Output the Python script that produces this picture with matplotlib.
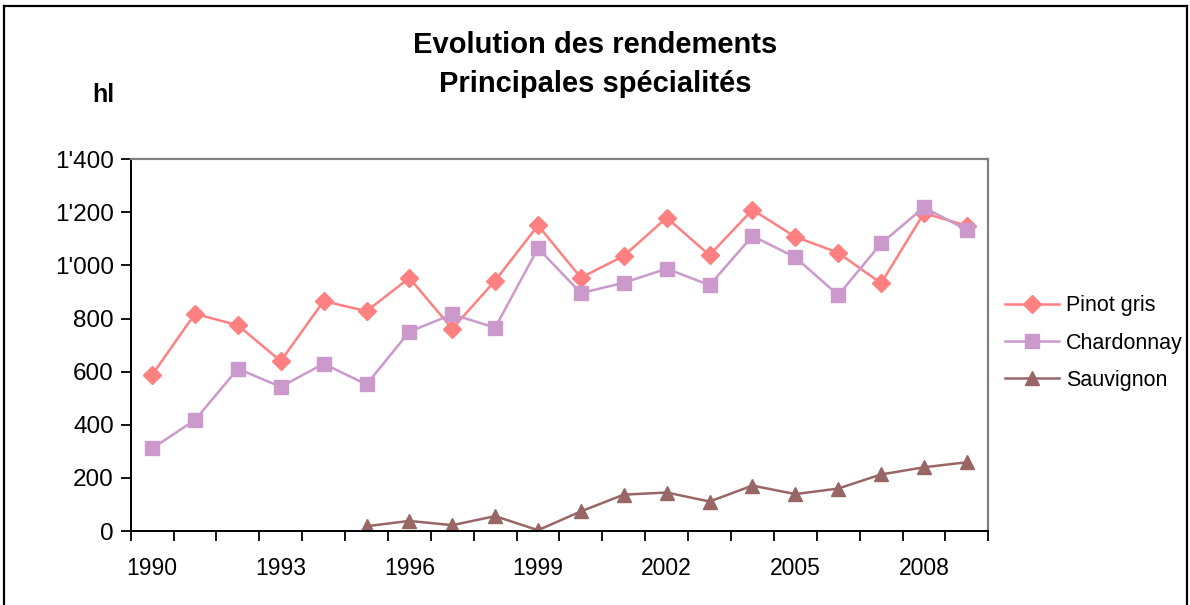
import numpy as np
import matplotlib
matplotlib.use("Agg")
import matplotlib.pyplot as plt
from matplotlib.lines import Line2D

plt.rcParams['font.family'] = ['Liberation Sans', 'DejaVu Sans']

years = list(range(1990, 2010))
pinot_gris = [588, 818, 775, 640, 866, 828, 953, 762, 943, 1151,
              954, 1036, 1180, 1039, 1210, 1108, 1048, 933, 1197, 1150]
chardonnay = [311, 418, 611, 543, 630, 552, 751, 816, 766, 1065,
              896, 935, 988, 926, 1111, 1031, 888, 1083, 1219, 1134]
sauvignon = [np.nan, np.nan, np.nan, np.nan, np.nan, 18, 38, 22, 56, 3,
             74, 137, 145, 111, 171, 139, 160, 213, 240, 259]
y_ticks = [0, 200, 400, 600, 800, 1000, 1200, 1400]
y_tick_labels = ['0', '200', '400', '600', '800', "1'000", "1'200", "1'400"]
x_label_years = [1990, 1993, 1996, 1999, 2002, 2005, 2008]

fig = plt.figure(figsize=(11.9, 6.05), dpi=100)
ax = fig.add_axes([0.1098, 0.1223, 0.7207, 0.6144])

x = np.arange(len(years))
ax.plot(x, pinot_gris, color='#FF8080', lw=1.8, marker='D', ms=9.5,
        label='Pinot gris')
ax.plot(x, chardonnay, color='#CC99CC', lw=1.8, marker='s', ms=10.5,
        label='Chardonnay')
ax.plot(x, sauvignon, color='#996666', lw=1.8, marker='^', ms=10.5,
        label='Sauvignon')

ax.set_xlim(-0.5, len(years) - 0.5)
ax.set_ylim(0, 1400)

# tick marks between categories, labels on the category centres
ax.set_xticks(np.arange(-0.5, len(years), 1))
ax.set_xticklabels([])
ax.set_xticks([years.index(yr) for yr in x_label_years], minor=True)
ax.set_xticklabels([str(yr) for yr in x_label_years], minor=True)
ax.tick_params(axis='x', which='major', direction='out', length=7, width=1.3)
ax.tick_params(axis='x', which='minor', length=0, pad=19, labelsize=16.5)

ax.set_yticks(y_ticks)
ax.set_yticklabels(y_tick_labels)
ax.tick_params(axis='y', direction='out', length=7, width=1.3, pad=5,
               labelsize=17.5)

for side in ['left', 'bottom']:
    ax.spines[side].set_color('black')
    ax.spines[side].set_linewidth(1.4)
for side in ['top', 'right']:
    ax.spines[side].set_color('#808080')
    ax.spines[side].set_linewidth(1.6)

fig.text(0.5, 0.893, 'Evolution des rendements\nPrincipales spécialités',
         ha='center', va='center', fontsize=21, fontweight='bold',
         linespacing=1.5)
fig.text(0.087, 0.843, 'hl', ha='center', va='center', fontsize=18,
         fontweight='bold')

fig.legend(loc='center left', bbox_to_anchor=(0.8445, 0.433), frameon=False,
           fontsize=15.5, handlelength=2.5, handletextpad=0.33,
           labelspacing=0.75, borderpad=0, borderaxespad=0)

# outer chart frame
fig.add_artist(Line2D([0.0034, 0.0034], [0, 0.99], transform=fig.transFigure,
                      color='black', lw=1.6))
fig.add_artist(Line2D([0.9975, 0.9975], [0, 0.99], transform=fig.transFigure,
                      color='black', lw=1.6))
fig.add_artist(Line2D([0.0034, 0.9975], [0.99, 0.99], transform=fig.transFigure,
                      color='black', lw=1.6))

fig.savefig('out.png', dpi=100)
plt.close(fig)
